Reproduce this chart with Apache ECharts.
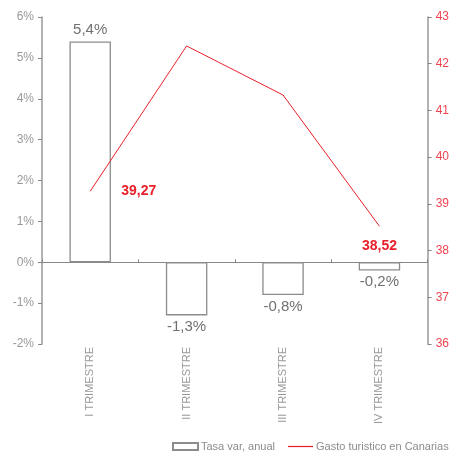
<!DOCTYPE html>
<html><head><meta charset="utf-8">
<script src="https://cdn.jsdelivr.net/npm/echarts@6/dist/echarts.min.js"></script>
<style>html,body{margin:0;padding:0;background:#fff}#c{width:452px;height:452px}</style>
</head><body><div id="c"></div>
<script>
var categories = ['I TRIMESTRE', 'II TRIMESTRE', 'III TRIMESTRE', 'IV TRIMESTRE'];
var tasaVar = [5.4, -1.3, -0.8, -0.2];
var gasto = [39.27, 42.38, 41.33, 38.52];
var labeledIdx = [0, 3];

var chart = echarts.init(document.getElementById('c'));
var font = '"Liberation Sans", Arial, sans-serif';
var gray = '#8c8c8c';
var red = '#e8202a';
function fmt(v, d) { return v.toFixed(d).replace('.', ','); }

chart.setOption({
  animation: false,
  textStyle: { fontFamily: font },
  grid: { left: 42, right: 21, top: 17, bottom: 108 },
  legend: {
    left: 172, top: 441, padding: 0, width: 600, itemWidth: 25, itemHeight: 7, itemGap: 13,
    textStyle: { color: gray, fontSize: 11, fontFamily: font, padding: [0, 0, 0, -2] },
    data: [
      { name: 'Tasa var, anual', icon: 'rect' },
      {
        name: 'Gasto turistico en Canarias',
        icon: 'path://M0,0L100,0L100,5L0,5Z',
        itemStyle: { color: red, borderColor: red, borderWidth: 0 }
      }
    ]
  },
  xAxis: [
    {
      type: 'category', data: categories, position: 'bottom',
      axisLine: { onZero: true, onZeroAxisIndex: 0, lineStyle: { color: '#888', width: 1 } },
      axisTick: { show: true, interval: 0, length: 3, inside: true, lineStyle: { color: '#888' } },
      axisLabel: { show: false }
    },
    {
      type: 'category', data: categories, position: 'bottom',
      axisLine: { show: false, onZero: false }, axisTick: { show: false },
      axisLabel: { rotate: 90, margin: 3, interval: 0, color: '#999', fontSize: 11, fontFamily: font }
    }
  ],
  yAxis: [
    {
      type: 'value', min: -2, max: 6, interval: 1,
      splitLine: { show: false },
      axisLine: { show: true, lineStyle: { color: '#999', width: 1.5 } },
      axisTick: { show: true, length: 4, lineStyle: { color: '#888' } },
      axisLabel: { color: '#999', fontSize: 12, margin: 8, fontFamily: font, formatter: function (v) { return v + '%'; } }
    },
    {
      type: 'value', min: 36, max: 43, interval: 1, position: 'right',
      splitLine: { show: false },
      axisLine: { show: true, lineStyle: { color: '#999', width: 1.5 } },
      axisTick: { show: true, length: 4, lineStyle: { color: '#888' } },
      axisLabel: { color: '#ee4450', fontSize: 12, margin: 8, fontFamily: font }
    }
  ],
  series: [
    {
      name: 'Tasa var, anual', type: 'bar', barWidth: '43%',
      xAxisIndex: 0, yAxisIndex: 0,
      itemStyle: { color: '#fff', borderColor: '#8c8c8c', borderWidth: 1.3 },
      label: {
        show: true, color: '#707070', fontSize: 15, distance: 4, fontFamily: font,
        position: 'top',
        formatter: function (p) { return fmt(p.value, 1) + '%'; }
      },
      data: tasaVar.map(function (v) {
        return { value: v, label: { position: v < 0 ? 'bottom' : 'top' } };
      })
    },
    {
      name: 'Gasto turistico en Canarias', type: 'line',
      xAxisIndex: 0, yAxisIndex: 1, symbol: 'circle', symbolSize: 0.01, showSymbol: true,
      lineStyle: { color: red, width: 1 }, itemStyle: { color: red },
      data: gasto.map(function (v, i) {
        var show = labeledIdx.indexOf(i) >= 0;
        return {
          value: v,
          label: {
            show: show, color: red, fontSize: 14, fontWeight: 'bold', fontFamily: font,
            position: i === 0 ? 'right' : 'bottom', distance: i === 0 ? 31 : 13,
            formatter: function (p) { return fmt(p.value, 2); }
          }
        };
      })
    }
  ]
});
</script></body></html>
